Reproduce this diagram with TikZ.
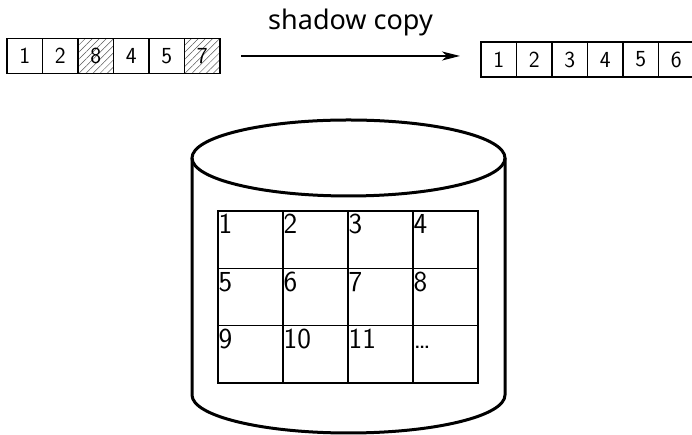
\documentclass[tikz,border=0pt]{standalone}
\usepackage{fontspec}
\newfontfamily\notosans{Noto Sans}
\usetikzlibrary{patterns.meta,arrows.meta}
\begin{document}
\begin{tikzpicture}[x=1pt,y=1pt,font=\sffamily]
\useasboundingbox (0,0) rectangle (692,435);
\tikzset{
  cell/.style={draw, line width=1.8pt, minimum width=35.5pt, minimum height=35pt, inner sep=0pt, outer sep=0pt, font=\sffamily\fontsize{23}{23}\selectfont},
  hatched/.style={pattern={Lines[angle=45,distance=5pt,line width=0.5pt]}, pattern color=gray!70!black},
  gcell/.style={draw, line width=1.6pt, minimum width=65pt, minimum height=57.3pt, inner sep=0pt, outer sep=0pt,
    label distance=0pt},
  glabel/.style={anchor=north west, inner xsep=0.5pt, inner ysep=2pt, text height=20.5pt, text depth=0pt, font=\sffamily\fontsize{29}{29}\selectfont},
  cyl/.style={line width=3pt}
}
% left array
\foreach \t/\h [count=\i] in {1/,2/,8/hatched,4/,5/,7/hatched}
  \node[cell,\h] (l\i) at ({7+35.5*(\i-0.5)},379) {\t};
% right array
\foreach \t [count=\i] in {1,2,3,4,5,6}
  \node[cell] (r\i) at ({481+35.5*(\i-0.5)},375.5) {\t};
% arrow
\draw[yshift=2pt, line width=1.5pt, -{Stealth[length=18pt,width=9pt,inset=5pt]}, shorten <=21pt, shorten >=21pt]
  (l6.east) -- (r1.west |- l6.east)
  node[midway, yshift=26pt, anchor=base, font=\notosans\fontsize{27}{27}\selectfont] (lbl) {shadow copy};
% cylinder
\draw[cyl] (348.5,277) ellipse (156.5 and 38);
\draw[cyl] (192,277) -- (192,40) arc (180:360:156.5 and 38) -- (505,277);
% grid
\foreach \t [count=\i from 0] in {1,2,3,4,5,6,7,8,9,10,11,\dots}{
  \pgfmathtruncatemacro\c{mod(\i,4)}
  \pgfmathtruncatemacro\r{div(\i,4)}
  \node[gcell, label={[glabel]north west:\t}] (g\i) at ({218+65*(\c+0.5)},{224-57.33*(\r+0.5)}) {};
}
\end{tikzpicture}
\end{document}
